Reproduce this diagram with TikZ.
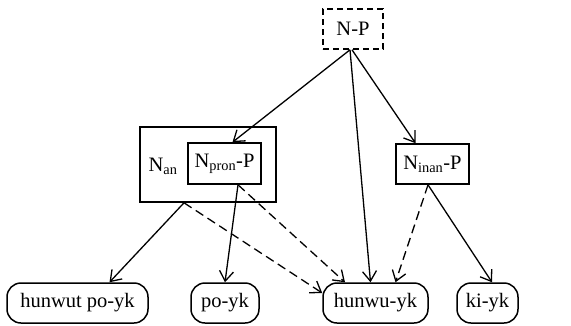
\documentclass[tikz,border=0pt]{standalone}
\usepackage{fontspec}
\setmainfont{Liberation Serif}
\usetikzlibrary{arrows.meta}
\begin{document}
\begin{tikzpicture}[x=1pt,y=-1pt,
  every node/.style={font=\fontsize{20.5}{22}\selectfont, inner sep=0pt},
  box/.style={draw, line width=1.6pt, minimum width=#1},
  leaf/.style={draw, line width=1.5pt, rounded corners=14pt, minimum height=40pt, minimum width=#1},
  arr/.style={line width=1.3pt, -{Straight Barb[length=10pt,width=14pt,line width=1.3pt]}},
  darr/.style={arr, dash pattern=on 9pt off 5pt}]
\useasboundingbox (0,0) rectangle (571,325);
\node[box=60pt, minimum height=40pt, dash pattern=on 6pt off 4pt] (NP) at (353,29) {N-P};
\node[box=136pt, minimum height=75pt] (Nan) at (208,164.5) {};
\node[box=73pt, minimum height=41pt] (Npron) at (224.5,163.5) {N\textsubscript{pron}-P};
\node (Nanlbl) at (163,166) {N\textsubscript{an}};
\node[box=73pt, minimum height=40pt] (Ninan) at (432.5,164) {N\textsubscript{inan}-P};
\node[leaf=141pt] (hunwut) at (77.5,303) {hunwut po-yk};
\node[leaf=68pt] (poyk) at (225,303) {po-yk};
\node[leaf=105pt] (hunwu) at (375.5,303) {hunwu-yk};
\node[leaf=61pt] (kiyk) at (487.5,303) {ki-yk};
\draw[arr] ([xshift=-3pt]NP.south) -- ([xshift=8pt]Npron.north);
\draw[arr] ([xshift=-3pt]NP.south) -- ([xshift=-5pt]hunwu.north);
\draw[arr] ([xshift=-1pt]NP.south) -- ([xshift=-17pt]Ninan.north);
\draw[arr] ([xshift=-24pt]Nan.south) -- ([xshift=32pt]hunwut.north);
\draw[darr] ([xshift=-24pt]Nan.south) -- ([yshift=10pt]hunwu.west);
\draw[arr] ([xshift=13.5pt]Npron.south) -- (poyk.north);
\draw[darr] ([xshift=13.5pt]Npron.south) -- ([xshift=-30.5pt]hunwu.north);
\draw[darr] ([xshift=-4.5pt]Ninan.south) -- ([xshift=20pt]hunwu.north);
\draw[arr] ([xshift=-4.5pt]Ninan.south) -- ([xshift=4.5pt]kiyk.north);
\end{tikzpicture}
\end{document}
